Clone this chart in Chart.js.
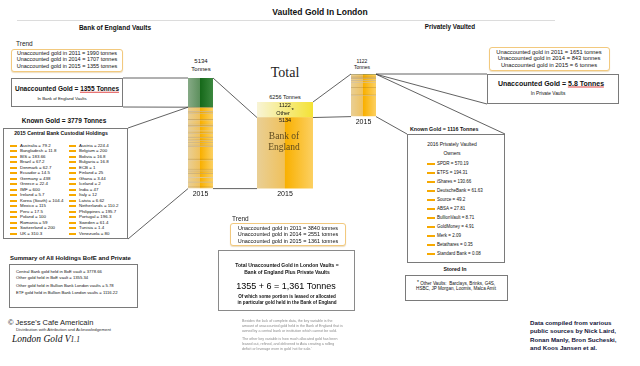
<!DOCTYPE html>
<html>
<head>
<meta charset="utf-8">
<script src="https://cdn.jsdelivr.net/npm/chart.js@4.4.1/dist/chart.umd.min.js"></script>
<style>
  body { margin: 0; width: 640px; height: 366px; position: relative; overflow: hidden; background: #fff;
         font-family: "Liberation Sans", Arial, sans-serif; color: #111; }
  .t { position: absolute; white-space: nowrap; line-height: 1; }
  .box { position: absolute; box-sizing: border-box; border: 1px solid #7a7a7a; background: #fff; }
  .trend { position: absolute; box-sizing: border-box; border: 1px solid #f2c97e; border-radius: 3px;
           box-shadow: 0 1px 1px rgba(200,160,80,0.35); background: #fff; }
  .mark { position: absolute; height: 2px; background: #f7a900; }
  canvas { position: absolute; }
  svg { position: absolute; left: 0; top: 0; }
  .ul { border-bottom: 1px solid #e04848; }
</style>
</head>
<body>
<div class="trend" style="left:11px;top:49px;width:112px;height:23px"></div>
<div class="box" style="left:11px;top:78px;width:112px;height:29px"></div>
<div class="box" style="left:3px;top:128px;width:125px;height:111px"></div>
<div class="box" style="left:9px;top:264px;width:129px;height:44px"></div>
<div class="trend" style="left:230px;top:223px;width:116px;height:23px"></div>
<div class="box" style="left:218px;top:250px;width:137px;height:61px;border:1.5px solid #8a8a8a"></div>
<div class="trend" style="left:489px;top:47px;width:121px;height:24px"></div>
<div class="box" style="left:487px;top:74px;width:132px;height:30px"></div>
<div class="box" style="left:407px;top:134px;width:98px;height:129px"></div>
<div class="box" style="left:405px;top:275px;width:103px;height:26px"></div>
<div style="position:absolute;left:17px;top:20px;width:538px;height:1px;background:#dcdcdc"></div>

<canvas id="boeBar" width="25" height="121" style="left:188px;top:78px"></canvas>
<canvas id="totalBar" width="56" height="97" style="left:257px;top:102px"></canvas>
<canvas id="privBar" width="25" height="53" style="left:351px;top:74px"></canvas>

<script>
// ---- data ----
const barYears = ["2015"];
const boeUnaccounted = 1355;
const boeKnown = 3779;
const boeTotal = 5134;
const privUnaccounted = 5.8;
const privKnown = 1116;
const privTotal = 1122;
const allTotal = 6256;

const bankNames = ["Australia", "Austria", "Bangladesh", "Belgium", "BIS", "Bolivia", "Brazil", "Bulgaria",
  "Denmark", "ECB", "Ecuador", "Finland", "Germany", "Ghana", "Greece", "Iceland", "IMF", "India",
  "Ireland", "Italy", "Korea (South)", "Latvia", "Mexico", "Netherlands", "Peru", "Philippines",
  "Poland", "Portugal", "Romania", "Sweden", "Switzerland", "Tunisia", "UK", "Venezuela"];
const bankValues = [79.2, 224.4, 11.8, 200, 183.66, 16.8, 67.2, 16.8, 62.7, 1, 14.5, 25, 438, 3.44,
  22.4, 2, 600, 47, 5.7, 12, 104.4, 6.62, 115, 110.2, 17.5, 195.7, 100, 196.3, 59, 61.4, 200, 1.4,
  310.3, 80];

const ownerNames = ["SPDR", "ETFS", "iShares", "DeutscheBank", "Source", "ABSA", "BullionVault",
  "GoldMoney", "Merk", "Betathares", "Standard Bank"];
const ownerValues = [570.19, 194.31, 130.66, 61.63, 49.2, 27.81, 8.71, 4.91, 2.09, 0.35, 0.08];

const trendYears = ["2011", "2014", "2015"];
const boeTrend = [1990, 1707, 1355];
const totalTrend = [3840, 2551, 1361];
const privTrend = [1651, 843, 6];

const summaryLabels = ["Central Bank gold held in BoE vault", "Other gold held in BoE vault",
  "Other gold held in Bullion Bank London vaults", "ETF gold held in Bullion Bank London vaults"];
const summaryValues = [3778.66, 1355.34, 5.78, 1116.22];

// ---- text helpers ----
function label(text, x, y, css, center) {
  const d = document.createElement("div");
  d.className = "t";
  d.innerHTML = text;
  d.style.cssText = css || "";
  d.style.left = x + "px";
  d.style.top = y + "px";
  d.style.transform = center ? "translate(-50%,-50%)" : "translateY(-50%)";
  document.body.appendChild(d);
  return d;
}
function mark(x, y, w) {
  const m = document.createElement("div");
  m.className = "mark";
  m.style.left = x + "px";
  m.style.top = (y - 1) + "px";
  m.style.width = w + "px";
  document.body.appendChild(m);
}

label("Vaulted Gold In London", 320, 12, "font-weight:bold;font-size:8.5px", true);
label("Bank of England Vaults", 115, 28, "font-weight:bold;font-size:6.5px", true);
label("Privately Vaulted", 450, 27, "font-weight:bold;font-size:6.3px", true);

// left side
label("Trend", 16, 44, "font-size:6.5px;color:#222");
trendYears.forEach((yr, i) => {
  label("Unaccounted gold in " + yr + " = " + boeTrend[i] + " tonnes", 67, 53.5 + i * 6.5, "font-size:5.5px", true);
});
label("Unaccounted Gold = <span class='ul'>" + boeUnaccounted + " Tonnes</span>", 67, 89, "font-weight:bold;font-size:6.5px", true);
label("In Bank of England Vaults", 62, 99, "font-size:4.3px", true);
label("Known Gold = " + boeKnown + " Tonnes", 64, 121, "font-weight:bold;font-size:6.5px", true);
label("2015 Central Bank Custodial Holdings", 61, 134, "font-weight:bold;font-size:5.2px", true);
bankNames.forEach((n, i) => {
  const col = i % 2, row = Math.floor(i / 2);
  const y = 145.7 + row * 5.5;
  mark(col ? 69 : 10, y, 7);
  label(n + " = " + bankValues[i], col ? 79 : 20, y, "font-size:4.4px");
});
label("Summary of All Holdings BofE and Private", 10, 258, "font-weight:bold;font-size:6px");
const sumY = [272.3, 278.3, 286, 292.7];
summaryLabels.forEach((s, i) => label(s + " = " + summaryValues[i], 16, sumY[i], "font-size:4.2px"));
label("&copy; Jesse's Cafe Americain", 8, 323, "font-size:7.5px;color:#222");
label("Distribution with Attribution and Acknowledgement", 16, 330, "font-size:4.3px;color:#333");
label("London Gold V<span style='font-size:7.5px'>1.1</span>", 12, 340, "font-family:'Liberation Serif',serif;font-style:italic;font-size:9.5px");

// center
label("Total", 285, 73, "font-family:'Liberation Serif',serif;font-size:14px;color:#222", true);
label("5134", 201, 61, "font-size:6px", true);
label("Tonnes", 201, 69, "font-size:6px", true);
label(privTotal, 362, 61, "font-size:5px", true);
label("Tonnes", 362, 67, "font-size:5px", true);
label(allTotal + " Tonnes", 285, 98, "font-size:5.5px", true);
label(privTotal, 285, 106, "font-size:5.5px", true);
label("Other <sup style='font-size:6px;vertical-align:3px'>*</sup>", 285, 112, "font-size:5.5px", true);
label(boeTotal, 285, 121, "font-size:5.5px", true);
label("Bank of", 284, 137, "font-family:'Liberation Serif',serif;font-size:9.5px;color:#5e4a1e", true);
label("England", 284, 147.5, "font-family:'Liberation Serif',serif;font-size:9.5px;color:#5e4a1e", true);

label("Trend", 232, 219, "font-size:6.5px;color:#222");
trendYears.forEach((yr, i) => {
  label("Unaccounted gold in " + yr + " = " + totalTrend[i] + " tonnes", 288, 228.7 + i * 6.5, "font-size:5.5px", true);
});
label("Total Unaccounted Gold in London Vaults =", 287, 265, "font-weight:bold;font-size:5px", true);
label("Bank of England Plus Private Vaults", 287, 271.7, "font-weight:bold;font-size:5px", true);
label("1355 + 6 = 1,361 Tonnes", 286, 285.7, "font-size:9px;color:#000", true);
label("Of which some portion is leased or allocated", 287, 296.7, "font-weight:bold;font-size:4.6px", true);
label("in particular gold held in the Bank of England", 287, 303.3, "font-weight:bold;font-size:4.6px", true);
const noteLines = ["Besides the lack of complete data, the key variable is the",
  "amount of unaccounted gold held in the Bank of England that is",
  "owned by a central bank or institution which cannot be sold.",
  "The other key variable is how much allocated gold has been",
  "leased out, refined, and delivered to Asia creating a rolling",
  "deficit or leverage even in gold 'not for sale.'"];
const noteY = [322, 326.7, 331.7, 340, 345, 350];
noteLines.forEach((s, i) => label(s, 242, noteY[i], "font-size:3.6px;color:#8a8a8a"));

// right side
trendYears.forEach((yr, i) => {
  label("Unaccounted gold in " + yr + " = " + privTrend[i] + " tonnes", 549, 52.7 + i * 6.5, "font-size:5.8px", true);
});
label("Unaccounted Gold = <span class='ul'>" + privUnaccounted + " Tonnes</span>", 551, 82.7, "font-weight:bold;font-size:7px", true);
label("In Private Vaults", 548, 94, "font-size:4.8px", true);
label("Known Gold = " + privKnown + " Tonnes", 410, 130, "font-weight:bold;font-size:5.3px");
label("2016 Privately Vaulted", 452, 144, "font-size:5px", true);
label("Owners", 452, 152.7, "font-size:5px", true);
ownerNames.forEach((n, i) => {
  const y = 163.7 + i * 9;
  mark(427, y, 8);
  label(n + " = " + ownerValues[i], 437, y, "font-size:4.5px");
});
label("Stored In", 455, 270, "font-weight:bold;font-size:5.3px", true);
label("<sup style='font-size:5px;vertical-align:1px'>*</sup> Other Vaults:&nbsp; Barclays, Brinks, G4S,", 456, 282.7, "font-size:4.6px", true);
label("HSBC, JP Morgan, Loomis, Malca Amit", 456, 289.3, "font-size:4.6px", true);
const credit = ["Data compiled from various", "public sources by Nick Laird,",
  "Ronan Manly, Bron Sucheski,", "and Koos Jansen et al."];
credit.forEach((s, i) => label(s, 530, 323 + i * 8.4, "font-weight:bold;font-size:6.2px;color:#15153a"));

// ---- bars ----
function grad(stops) {
  return function (ctx) {
    const ch = ctx.chart, a = ch.chartArea;
    if (!a) return stops[0][1];
    const g = ch.ctx.createLinearGradient(a.left, 0, a.right, 0);
    stops.forEach(s => g.addColorStop(s[0], s[1]));
    return g;
  };
}
const goldFill = [[0, "#e9cf95"], [0.49, "#f0c15c"], [0.5, "#f9b000"], [1, "#fcd062"]];
const greenFill = [[0, "#86aa86"], [0.49, "#5c8f5c"], [0.5, "#16691a"], [1, "#3c883f"]];
const otherFill = [[0, "#f8f4d6"], [1, "#f4e235"]];
const stripe = "rgba(125,85,20,0.4)";

function seg(label, value, fill, lined) {
  return {
    label, data: [value], backgroundColor: grad(fill),
    borderColor: stripe, borderSkipped: false,
    borderWidth: lined ? { top: 0.8, bottom: 0, left: 0, right: 0 } : 0
  };
}

function makeBar(id, datasets, max) {
  return new Chart(document.getElementById(id), {
    type: "bar",
    data: { labels: barYears, datasets },
    options: {
      responsive: false,
      animation: false,
      layout: { padding: 0 },
      datasets: { bar: { barPercentage: 1, categoryPercentage: 1 } },
      plugins: { legend: { display: false }, tooltip: { enabled: false } },
      scales: {
        x: {
          stacked: true,
          grid: { display: false, drawTicks: false },
          border: { display: false },
          ticks: { padding: 1, color: "#111", font: { size: 7, family: "Liberation Sans" } }
        },
        y: { stacked: true, display: false, min: 0, max }
      }
    }
  });
}

const bankSum = bankValues.reduce((s, v) => s + v, 0);
const boeSets = bankNames.map((n, i) => seg(n, bankValues[i], goldFill, true));
boeSets.push(seg("Other known", boeKnown - bankSum, goldFill, true));
boeSets.push(seg("Unaccounted", boeUnaccounted, greenFill, false));
const boeChart = makeBar("boeBar", boeSets, boeTotal);

const totalChart = makeBar("totalBar", [
  seg("Bank of England", boeTotal, goldFill, false),
  seg("Other", privTotal, otherFill, false)
], allTotal);

const ownerSum = ownerValues.reduce((s, v) => s + v, 0);
const privSets = ownerNames.map((n, i) => seg(n, ownerValues[i], goldFill, true));
privSets.push(seg("Other known", privKnown - ownerSum, goldFill, true));
privSets.push(seg("Unaccounted", privUnaccounted, greenFill, false));
const privChart = makeBar("privBar", privSets, privTotal);

// ---- connector lines from bar positions ----
function rect(chart, ds) {
  const el = chart.getDatasetMeta(ds).data[0];
  const c = chart.canvas.getBoundingClientRect();
  const p = el.getProps(["x", "y", "base", "width"], true);
  return { l: c.left + p.x - p.width / 2, r: c.left + p.x + p.width / 2,
           t: c.top + Math.min(p.y, p.base), b: c.top + Math.max(p.y, p.base) };
}
const boeLast = boeSets.length - 1;
const boeGreen = rect(boeChart, boeLast);
const boeYellow = rect(boeChart, 0);
const totBoe = rect(totalChart, 0);
const totOther = rect(totalChart, 1);
const privLast = privSets.length - 1;
const privGreen = rect(privChart, privLast);
const privYellow = rect(privChart, 0);

const lines = [
  [123, 78, boeGreen.l, boeGreen.t],
  [123, 107, boeGreen.l, boeGreen.b],
  [128, 128, boeGreen.l, boeGreen.b],
  [128, 239, boeYellow.l, boeYellow.b],
  [boeGreen.r, boeGreen.t, totBoe.l, totBoe.t],
  [boeYellow.r, boeYellow.b, totBoe.l, totBoe.b],
  [totOther.r, totOther.t, privGreen.l, privGreen.t],
  [totBoe.r, totBoe.t, privYellow.l, privYellow.b],
  [privGreen.r, privGreen.t, 487, 74],
  [privGreen.r, privGreen.b, 487, 104],
  [privGreen.r, privGreen.b, 505, 134],
  [privYellow.r, privYellow.b, 407, 134]
];
const ns = "http://www.w3.org/2000/svg";
const svg = document.createElementNS(ns, "svg");
svg.setAttribute("width", 640);
svg.setAttribute("height", 366);
lines.forEach(([x1, y1, x2, y2]) => {
  const ln = document.createElementNS(ns, "line");
  ln.setAttribute("x1", x1); ln.setAttribute("y1", y1);
  ln.setAttribute("x2", x2); ln.setAttribute("y2", y2);
  ln.setAttribute("stroke", "#3a3a3a");
  ln.setAttribute("stroke-width", "0.8");
  svg.appendChild(ln);
});
document.body.appendChild(svg);
</script>
</body>
</html>
